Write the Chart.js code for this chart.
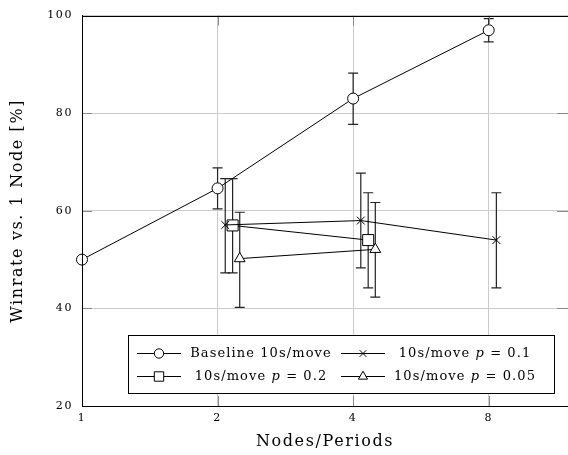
<!DOCTYPE html>
<html lang="en">

<head>
    <meta charset="UTF-8">
    <title>Winrate vs. 1 Node</title>
    <script src="https://cdn.jsdelivr.net/npm/chart.js@4"></script>
    <style>
        body {
            margin: 0;
            background: #fff;
        }

        .chart-container {
            width: 568px;
            height: 455px;
        }
    </style>
</head>

<body>
    <div class="chart-container">
        <canvas id="winrateChart"></canvas>
    </div>

    <script>
        // values
        const xTicks = [1, 2, 4, 8];
        const yTicks = [20, 40, 60, 80, 100];

        const baseNodes = [1, 2, 4, 8];
        const baseWin = [50, 64.6, 83, 97];
        const baseLow = [null, 60.4, 77.7, 94.6];
        const baseHigh = [null, 68.8, 88.2, 99.4];

        // p = 0.1 (x positions shifted a bit in the original)
        const p01Nodes = [2.08, 4.16, 8.32];
        const p01Win = [57.1, 58.0, 54.0];
        const p01Low = [47.3, 48.3, 44.2];
        const p01High = [66.6, 67.7, 63.7];

        const p02Nodes = [2.16, 4.32];
        const p02Win = [57.0, 54.0];
        const p02Low = [47.3, 44.2];
        const p02High = [66.6, 63.7];

        const p005Nodes = [2.24, 4.48];
        const p005Win = [50.2, 52.1];
        const p005Low = [40.2, 42.3];
        const p005High = [59.7, 61.7];

        const seriesLabels = ['Baseline 10s/move', '10s/move p = 0.1', '10s/move p = 0.2', '10s/move p = 0.05'];

        const FONT = '"DejaVu Serif", serif';

        function points(xs, ys) {
            return xs.map((x, i) => ({ x: x, y: ys[i] }));
        }

        function makeSet(label, xs, ys, lo, hi, style, radius) {
            return {
                label: label,
                data: points(xs, ys),
                errLow: lo,
                errHigh: hi,
                borderColor: '#000',
                borderWidth: 1,
                backgroundColor: '#fff',
                pointStyle: style,
                pointRadius: radius,
                pointHoverRadius: radius,
                pointBorderColor: '#000',
                pointBackgroundColor: '#fff',
                pointBorderWidth: 1,
                tension: 0,
                clip: false
            };
        }

        // the original (LaTeX) text is set wide, so space the letters a little
        const spacing = {
            id: 'spacing',
            beforeLayout(chart) { chart.ctx.letterSpacing = '1.6px'; },
            beforeDraw(chart) { chart.ctx.letterSpacing = '1.6px'; }
        };

        // error bars, drawn under the markers
        const errorBars = {
            id: 'errorBars',
            beforeDatasetsDraw(chart) {
                const c = chart.ctx;
                const xs = chart.scales.x, ys = chart.scales.y;
                c.save();
                c.strokeStyle = '#222';
                c.lineWidth = 1.2;
                chart.data.datasets.forEach(ds => {
                    ds.data.forEach((p, i) => {
                        if (ds.errLow[i] == null) return;
                        const px = xs.getPixelForValue(p.x);
                        const top = ys.getPixelForValue(ds.errHigh[i]);
                        const bot = ys.getPixelForValue(ds.errLow[i]);
                        c.beginPath();
                        c.moveTo(px, top); c.lineTo(px, bot);
                        c.moveTo(px - 5, top); c.lineTo(px + 5, top);
                        c.moveTo(px - 5, bot); c.lineTo(px + 5, bot);
                        c.stroke();
                    });
                });
                c.restore();
            }
        };

        // box on all four sides plus small inward ticks
        const frame = {
            id: 'frame',
            afterDatasetsDraw(chart) {
                const c = chart.ctx;
                const a = chart.chartArea;
                const xs = chart.scales.x, ys = chart.scales.y;
                c.save();
                c.strokeStyle = '#8a8a8a';
                c.lineWidth = 1;
                c.beginPath();
                xTicks.slice(1).forEach(v => {
                    const px = Math.round(xs.getPixelForValue(v)) + 0.5;
                    c.moveTo(px, a.top); c.lineTo(px, a.top + 10);
                    c.moveTo(px, a.bottom); c.lineTo(px, a.bottom - 10);
                });
                yTicks.slice(1, -1).forEach(v => {
                    const py = Math.round(ys.getPixelForValue(v)) + 0.5;
                    c.moveTo(a.left, py); c.lineTo(a.left + 10, py);
                    c.moveTo(a.right, py); c.lineTo(a.right - 11, py);
                });
                c.stroke();
                c.strokeStyle = '#000';
                c.strokeRect(Math.round(a.left) + 0.5, Math.round(a.top) + 0.5,
                    Math.round(a.right - a.left), Math.round(a.bottom - a.top));
                c.restore();
            }
        };

        // legend drawn as a boxed 2x2 grid like the original
        function drawLabel(c, text, cx, cy) {
            const normal = '13px ' + FONT;
            const italic = 'italic 13px ' + FONT;
            const i = text.indexOf(' p ');
            let parts = [[text, normal]];
            if (i >= 0) {
                parts = [[text.slice(0, i + 1), normal], ['p', italic], [text.slice(i + 2), normal]];
            }
            let w = 0;
            parts.forEach(pt => { c.font = pt[1]; w += c.measureText(pt[0]).width; });
            let x = cx - w / 2;
            parts.forEach(pt => {
                c.font = pt[1];
                c.fillText(pt[0], x, cy);
                x += c.measureText(pt[0]).width;
            });
        }

        const boxLegend = {
            id: 'boxLegend',
            afterDraw(chart) {
                const c = chart.ctx;
                const box = { left: 128, top: 335, right: 554, bottom: 393 };
                const rowsY = [353, 376];
                const sampleX = [[137, 181], [341, 385]];
                const textX = [261, 465];
                c.save();
                c.letterSpacing = '1.1px';
                c.fillStyle = '#fff';
                c.fillRect(box.left, box.top, box.right - box.left, box.bottom - box.top);
                c.strokeStyle = '#000';
                c.lineWidth = 1;
                c.strokeRect(box.left + 0.5, box.top + 0.5, box.right - box.left, box.bottom - box.top);
                chart.data.datasets.forEach((ds, k) => {
                    const row = Math.floor(k / 2), col = k % 2;
                    const y = rowsY[row];
                    const s = sampleX[col];
                    c.strokeStyle = '#000';
                    c.lineWidth = 1;
                    c.beginPath();
                    c.moveTo(s[0], y + 0.5); c.lineTo(s[1], y + 0.5);
                    c.stroke();
                    c.fillStyle = '#fff';
                    Chart.helpers.drawPoint(c, {
                        pointStyle: ds.pointStyle, radius: ds.pointRadius * 0.85,
                        rotation: 0, borderWidth: 1
                    }, (s[0] + s[1]) / 2, y + 0.5);
                    c.fillStyle = '#000';
                    c.textBaseline = 'middle';
                    drawLabel(c, ds.label, textX[col], y + 1);
                });
                c.restore();
            }
        };

        const ctx = document.getElementById('winrateChart').getContext('2d');

        const chart = new Chart(ctx, {
            type: 'line',
            data: {
                datasets: [
                    makeSet(seriesLabels[0], baseNodes, baseWin, baseLow, baseHigh, 'circle', 5.5),
                    makeSet(seriesLabels[1], p01Nodes, p01Win, p01Low, p01High, 'crossRot', 5.5),
                    makeSet(seriesLabels[2], p02Nodes, p02Win, p02Low, p02High, 'rect', 7.8),
                    makeSet(seriesLabels[3], p005Nodes, p005Win, p005Low, p005High, 'triangle', 6.2)
                ]
            },
            options: {
                responsive: true,
                maintainAspectRatio: false,
                animation: false,
                layout: {
                    autoPadding: false,
                    padding: { top: 15, right: 0, left: 0, bottom: 0 }
                },
                plugins: {
                    legend: { display: false },
                    tooltip: { enabled: false }
                },
                scales: {
                    x: {
                        type: 'logarithmic',
                        min: 1,
                        max: 12,
                        afterBuildTicks: s => { s.ticks = xTicks.map(v => ({ value: v })); },
                        afterFit: s => {
                            s.height = 49;
                            s.paddingRight = 0;
                            s.paddingLeft = 0;
                        },
                        grid: { color: '#cccccc', drawTicks: false },
                        border: { color: '#000', width: 1 },
                        ticks: {
                            color: '#000',
                            padding: 6,
                            font: { family: FONT, size: 11 },
                            callback: v => String(v)
                        },
                        title: {
                            display: true,
                            text: 'Nodes/Periods',
                            color: '#000',
                            font: { family: FONT, size: 16 },
                            padding: { top: 5 }
                        }
                    },
                    y: {
                        min: 20,
                        max: 100,
                        afterBuildTicks: s => { s.ticks = yTicks.map(v => ({ value: v })); },
                        afterFit: s => { s.width = 82; },
                        grid: { color: '#cccccc', drawTicks: false },
                        border: { color: '#000', width: 1 },
                        ticks: {
                            color: '#000',
                            padding: 9,
                            font: { family: FONT, size: 11 }
                        },
                        title: {
                            display: true,
                            text: 'Winrate vs. 1 Node [%]',
                            color: '#000',
                            font: { family: FONT, size: 16 },
                            padding: { top: 8, bottom: 4 }
                        }
                    }
                }
            },
            plugins: [spacing, errorBars, frame, boxLegend]
        });
    </script>
</body>

</html>
